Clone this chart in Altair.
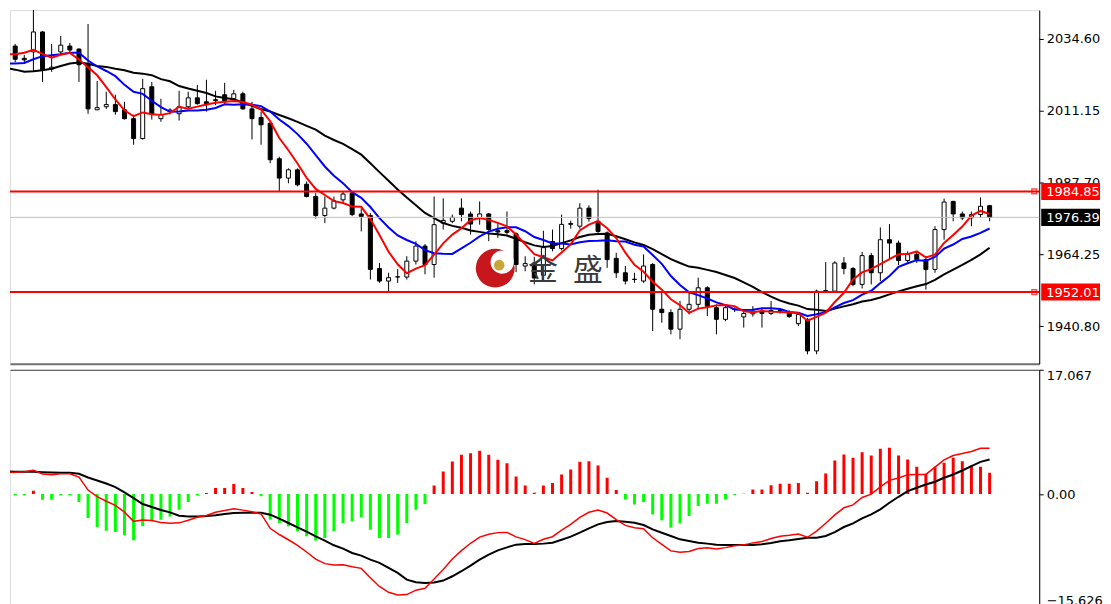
import altair as alt
import pandas as pd

# ---------------- data ----------------
opens = [2032.5, 2032.3, 2028.3, 2030.4, 2036.9, 2024.8, 2030.4, 2032.3, 2031.3, 2026.2,
         2011.5, 2012.5, 2013.2, 2011.5, 2008.6, 2002.1, 2019.0, 2008.6, 2011.0, 2010.2,
         2012.5, 2015.4, 2014.1, 2014.8, 2016.4, 2015.1, 2016.7, 2011.8, 2009.0, 2007.1,
         1995.5, 1989.2, 1991.9, 1987.2, 1983.2, 1977.0, 1979.4, 1982.1, 1984.3, 1977.5,
         1977.0, 1959.7, 1955.6, 1956.9, 1956.9, 1962.1, 1967.0, 1961.0, 1974.5, 1975.1,
         1979.4, 1977.5, 1976.2, 1977.5, 1972.0, 1972.1, 1971.0, 1960.5, 1961.5, 1957.5,
         1968.5, 1966.2, 1974.1, 1973.5, 1979.4, 1975.1, 1971.3, 1963.0, 1958.3, 1956.2,
         1955.6, 1961.0, 1946.4, 1945.3, 1939.9, 1946.4, 1948.0, 1953.4, 1946.9, 1943.1,
         1946.5, 1943.9, 1944.9, 1945.8, 1945.0, 1946.0, 1945.3, 1941.7, 1943.1, 1932.8,
         1952.3, 1952.3, 1961.5, 1959.7, 1954.5, 1963.9, 1958.3, 1969.1, 1968.0, 1962.3,
         1964.3, 1962.6, 1959.4, 1972.4, 1981.6, 1977.5, 1976.2, 1977.3, 1980.2]
highs = [2033.0, 2033.0, 2029.4, 2046.6, 2037.2, 2033.0, 2035.6, 2033.3, 2031.6, 2039.5,
         2020.9, 2017.4, 2016.4, 2014.1, 2009.9, 2021.6, 2020.6, 2015.1, 2012.0, 2017.7,
         2017.4, 2019.6, 2021.3, 2017.7, 2020.3, 2018.0, 2017.4, 2014.1, 2010.9, 2007.6,
         1996.2, 1992.4, 1992.4, 1988.1, 1984.3, 1983.2, 1983.2, 1985.0, 1984.85, 1979.4,
         1977.8, 1961.5, 1958.3, 1959.5, 1963.7, 1968.6, 1967.7, 1983.2, 1982.6, 1977.3,
         1982.6, 1978.3, 1981.6, 1977.8, 1974.5, 1978.3, 1971.5, 1963.7, 1963.5, 1972.0,
         1972.4, 1977.3, 1975.3, 1981.0, 1980.3, 1985.4, 1971.8, 1964.8, 1960.5, 1958.3,
         1964.3, 1961.5, 1952.3, 1946.4, 1949.1, 1951.8, 1956.7, 1953.9, 1948.0, 1947.6,
         1947.0, 1946.4, 1947.4, 1946.5, 1949.1, 1946.8, 1946.0, 1945.3, 1943.6, 1952.8,
         1961.8, 1962.1, 1963.4, 1960.2, 1965.1, 1964.8, 1973.1, 1974.2, 1968.8, 1965.3,
         1965.0, 1963.7, 1973.5, 1982.5, 1981.8, 1978.3, 1978.3, 1982.9, 1980.5]
lows = [2031.0, 2027.0, 2026.5, 2023.9, 2020.6, 2023.9, 2029.4, 2030.0, 2020.6, 2010.2,
        2011.5, 2011.8, 2009.9, 2008.3, 2000.1, 2001.8, 2008.3, 2007.6, 2010.0, 2008.0,
        2011.8, 2013.2, 2010.9, 2013.0, 2013.2, 2014.5, 2011.5, 2001.8, 2000.1, 1994.1,
        1984.85, 1987.5, 1986.5, 1982.9, 1976.0, 1974.5, 1979.0, 1981.0, 1976.8, 1971.8,
        1956.1, 1955.0, 1952.3, 1955.0, 1956.1, 1961.0, 1957.8, 1956.7, 1972.4, 1974.5,
        1975.1, 1970.8, 1974.0, 1968.6, 1969.7, 1970.8, 1958.5, 1958.8, 1954.5, 1956.0,
        1965.3, 1965.6, 1972.7, 1972.7, 1975.0, 1971.3, 1959.9, 1956.6, 1954.5, 1955.0,
        1955.0, 1939.3, 1942.0, 1938.2, 1936.6, 1944.7, 1946.4, 1944.2, 1938.2, 1942.5,
        1945.5, 1940.4, 1944.0, 1940.4, 1944.5, 1945.0, 1943.6, 1940.9, 1931.7, 1931.7,
        1951.8, 1951.8, 1957.8, 1953.9, 1953.2, 1954.5, 1955.6, 1962.6, 1960.8, 1961.5,
        1961.5, 1952.8, 1958.3, 1969.1, 1975.1, 1975.5, 1973.5, 1976.2, 1975.1]
closes = [2031.5, 2028.0, 2027.8, 2036.9, 2024.5, 2025.4, 2032.6, 2031.0, 2026.2, 2011.8,
          2012.2, 2013.2, 2010.9, 2008.6, 2002.1, 2018.4, 2010.2, 2009.9, 2011.4, 2012.5,
          2015.4, 2013.5, 2013.2, 2014.5, 2014.1, 2016.7, 2011.8, 2008.6, 2006.6, 1995.2,
          1989.2, 1991.9, 1987.0, 1983.2, 1977.0, 1979.4, 1981.8, 1984.0, 1977.3, 1976.7,
          1959.4, 1955.6, 1956.7, 1957.0, 1962.1, 1967.0, 1961.0, 1974.0, 1975.4, 1976.4,
          1977.3, 1974.2, 1977.5, 1972.4, 1971.6, 1971.5, 1961.0, 1961.3, 1956.6, 1966.5,
          1966.2, 1974.1, 1974.4, 1979.4, 1976.0, 1971.8, 1962.6, 1958.3, 1955.6, 1956.1,
          1960.5, 1946.4, 1945.3, 1939.9, 1946.4, 1948.0, 1953.4, 1947.4, 1943.1, 1946.9,
          1946.3, 1945.0, 1945.8, 1945.0, 1946.0, 1945.8, 1944.0, 1944.7, 1932.8, 1952.3,
          1952.5, 1961.5, 1959.7, 1954.5, 1963.9, 1958.3, 1969.1, 1968.0, 1962.3, 1964.3,
          1962.6, 1959.4, 1972.4, 1981.4, 1977.5, 1976.2, 1977.3, 1980.0, 1976.39]

# moving-average values at the left edge (their history is off the picture)
ma5_head = [2029.6, 2029.6, 2030.1, 2031.1]
ma10_head = [2026.6, 2026.6, 2026.8, 2028.0, 2029.0, 2029.3, 2029.6, 2030.1, 2030.1]
ma20_head = [2025.2, 2024.6, 2023.9, 2024.1, 2024.4, 2024.9, 2025.8, 2026.6, 2026.9, 2026.5,
             2025.8, 2025.5, 2024.9, 2024.4, 2023.6, 2023.3, 2022.8, 2021.5, 2020.8]

# MACD panel
hist = [-0.2, -0.2, -0.2, 0.46, -0.78, -0.78, -0.2, -0.2, -1.1, -3.29,
        -4.52, -5.02, -5.2, -5.66, -6.35, -4.43, -3.74, -3.52, -3.06, -2.15,
        -1.1, -0.2, 0.14, 0.82, 0.82, 1.37, 0.82, 0.27, -0.3, -3.5,
        -3.97, -4.43, -5.11, -5.8, -6.39, -6.03, -5.11, -3.97, -3.74, -3.2,
        -4.89, -6.03, -6.03, -5.57, -3.97, -2.15, -1.37, 1.19, 3.1, 4.47,
        5.39, 5.62, 5.94, 5.39, 4.7, 4.25, 2.42, 1.19, 0.18, 1.19,
        1.51, 2.69, 3.38, 4.43, 4.52, 3.93, 2.24, 0.55, -0.73, -1.42,
        -1.10, -2.79, -3.61, -4.61, -4.02, -3.01, -1.64, -1.32, -1.32, -0.73,
        -0.14, 0.05, 0.64, 0.64, 1.23, 1.42, 1.42, 1.51, 0.18, 1.78,
        2.83, 4.61, 5.43, 4.98, 5.75, 5.30, 6.21, 6.35, 5.30, 4.75,
        3.74, 2.79, 3.70, 4.29, 4.98, 4.52, 3.93, 3.74, 2.92]
dea = [3.1, 3.08, 3.06, 3.06, 3.01, 2.97, 2.92, 2.92, 2.79, 2.28,
       1.87, 1.46, 0.96, 0.23, -0.55, -1.37, -1.78, -2.19, -2.51, -2.97,
       -3.06, -3.06, -3.01, -2.92, -2.74, -2.60, -2.56, -2.56, -2.56, -2.83,
       -3.38, -3.97, -4.57, -5.16, -5.80, -6.39, -7.03, -7.49, -8.08, -8.45,
       -9.0, -9.45, -10.14, -10.82, -11.74, -12.1, -12.19, -12.15, -11.87, -11.28,
       -10.59, -9.82, -9.0, -8.31, -7.72, -7.31, -6.94, -6.85, -6.85, -6.8,
       -6.67, -6.26, -5.84, -5.3, -4.7, -4.16, -3.84, -3.7, -3.79, -3.93,
       -4.25, -4.84, -5.3, -5.75, -6.21, -6.44, -6.67, -6.8, -6.94, -6.99,
       -6.99, -6.99, -6.99, -6.89, -6.71, -6.48, -6.35, -6.16, -5.98, -5.98,
       -5.75, -5.21, -4.52, -4.02, -3.33, -2.79, -2.1, -1.19, -0.37, 0.41,
       0.87, 1.32, 1.69, 2.24, 2.69, 3.24, 3.84, 4.43, 4.75]
dif = [2.97, 3.01, 3.08, 3.26, 2.75, 2.65, 2.8, 2.8, 2.33, 0.55,
       -0.35, -0.98, -1.55, -2.48, -3.74, -3.55, -3.62, -3.9, -4.0, -3.95,
       -3.6, -3.18, -2.93, -2.49, -2.26, -2.03, -2.2, -2.42, -2.72, -4.7,
       -5.55, -6.27, -7.04, -7.95, -8.93, -9.55, -9.75, -9.7, -9.98, -10.2,
       -11.48, -12.68, -13.48, -13.85, -13.8, -13.19, -12.92, -11.65, -10.35, -8.9,
       -7.76, -6.75, -5.9, -5.52, -5.29, -5.26, -5.88, -6.25, -6.76, -6.2,
       -5.85, -4.95, -4.15, -3.2, -2.5, -2.2, -2.6, -3.5, -4.3, -4.62,
       -4.75, -6.0, -6.9, -7.8, -8.0, -7.87, -7.46, -7.36, -7.55, -7.35,
       -7.08, -6.97, -6.7, -6.5, -6.1, -5.78, -5.65, -5.47, -5.93, -5.08,
       -4.0, -2.85, -1.88, -1.48, -0.47, 0.0, 0.98, 1.88, 2.2, 2.67,
       2.7, 2.7, 3.7, 4.7, 5.3, 5.56, 5.85, 6.28, 6.28]

price_ticks = [2034.60, 2011.15, 1987.70, 1964.25, 1940.80]
macd_ticks = [17.067, 0.0, -15.626]
level_lines = [1984.85, 1952.01]
current_price = 1976.39
tag_prices = [1984.85, 1976.39, 1952.01]
tag_labels = ["1984.85", "1976.39", "1952.01"]
tag_colors = ["#ff0000", "#000000", "#ff0000"]
watermark_chars = ["金", "盛"]

# ---------------- table ----------------
n = len(closes)
cs = pd.Series(closes, dtype=float)
ma5 = cs.rolling(5).mean()
ma10 = cs.rolling(10).mean()
ma20 = cs.rolling(20).mean()
ma5.iloc[:len(ma5_head)] = ma5_head
ma10.iloc[:len(ma10_head)] = ma10_head
ma20.iloc[:len(ma20_head)] = ma20_head

df = pd.DataFrame({
    "k": list(range(n)), "o": opens, "h": highs, "l": lows, "c": closes,
    "ma5": ma5, "ma10": ma10, "ma20": ma20,
    "hist": hist, "dif": dif, "dea": dea,
})

W = 1033
H_TOP = 355
H_BOT = 239
FONT = "DejaVu Sans"
FS = 13

xs = alt.Scale(domain=[0.975, 112.9], nice=False, zero=False)
ys = alt.Scale(domain=[1928.59, 2044.04], nice=False, zero=False)
ys2 = alt.Scale(domain=[-15.626, 17.067], nice=False, zero=False)

x_top = alt.X("k:Q", scale=xs, title=None,
              axis=alt.Axis(orient="bottom", labels=False, ticks=False, grid=False,
                            domainColor="#707070", domainWidth=2))
price_axis = alt.Axis(orient="right", values=price_ticks, format=".2f", grid=False,
                      domainColor="black", tickColor="black", tickSize=4, labelPadding=3,
                      labelFont=FONT, labelFontSize=FS, labelColor="black", labelFlush=False)

base = alt.Chart(df)

wicks = base.mark_rule(color="black", strokeWidth=1, clip=True).encode(
    x=x_top, y=alt.Y("l:Q", scale=ys, axis=price_axis, title=None), y2="h:Q")
bodies = base.mark_bar(width=4, stroke="black", strokeWidth=1, clip=True).encode(
    x=alt.X("k:Q", title=None), y=alt.Y("o:Q", title=None), y2="c:Q",
    fill=alt.condition("datum.c >= datum.o", alt.value("white"), alt.value("black")))
l20 = base.mark_line(color="black", strokeWidth=2, clip=True).encode(
    x=alt.X("k:Q", title=None), y=alt.Y("ma20:Q", title=None))
l10 = base.mark_line(color="#0000ff", strokeWidth=2, clip=True).encode(
    x=alt.X("k:Q", title=None), y=alt.Y("ma10:Q", title=None))
l5 = base.mark_line(color="#ff0000", strokeWidth=2, clip=True).encode(
    x=alt.X("k:Q", title=None), y=alt.Y("ma5:Q", title=None))

lv = pd.DataFrame({"p": level_lines})
cur = pd.DataFrame({"p": [current_price]})
cur_rule = alt.Chart(cur).mark_rule(color="#c0c0c0", strokeWidth=1).encode(
    y=alt.Y("p:Q", title=None))
lv_rules = alt.Chart(lv).mark_rule(color="#ff0000", strokeWidth=2).encode(
    y=alt.Y("p:Q", title=None))
lv_marks = alt.Chart(lv).mark_square(filled=False, color="#ff0000", size=22,
                                     strokeWidth=1.5).encode(
    x=alt.value(W - 5), y=alt.Y("p:Q", title=None))

tags = pd.DataFrame({"p": tag_prices, "lab": tag_labels, "bg": tag_colors})
tag_box = alt.Chart(tags).mark_point(
    shape="M-1,-0.29L1,-0.29L1,0.29L-1,0.29Z", filled=True, size=3481,
    opacity=1, strokeWidth=0).encode(
    x=alt.value(W + 31.5), y=alt.Y("p:Q", title=None),
    color=alt.Color("bg:N", scale=None))
tag_txt = alt.Chart(tags).mark_text(align="left", baseline="middle", color="white",
                                    font=FONT, fontSize=FS, dy=1).encode(
    x=alt.value(W + 7), y=alt.Y("p:Q", title=None), text="lab:N")

one = pd.DataFrame({"a": [0]})
logo_red = alt.Chart(one).mark_circle(color="#c8161d", opacity=1, size=1520).encode(
    x=alt.value(487), y=alt.value(259))
logo_white = alt.Chart(one).mark_circle(color="white", opacity=1, size=540).encode(
    x=alt.value(494), y=alt.value(253))
logo_gold = alt.Chart(one).mark_circle(color="#c9a63a", opacity=1, size=115).encode(
    x=alt.value(491), y=alt.value(256))
wm = pd.DataFrame({"t": watermark_chars})
wm1 = alt.Chart(wm[wm.t == "金"]).mark_text(font="Noto Sans CJK SC", fontSize=30,
                                           color="#3a3a3a", baseline="middle").encode(
    x=alt.value(535), y=alt.value(262), text="t:N")
wm2 = alt.Chart(wm[wm.t == "盛"]).mark_text(font="Noto Sans CJK SC", fontSize=30,
                                           color="#3a3a3a", baseline="middle").encode(
    x=alt.value(580), y=alt.value(262), text="t:N")

top = alt.layer(wicks, bodies, l20, l10, l5, cur_rule, lv_rules, lv_marks,
                logo_red, logo_white, logo_gold, wm1, wm2, tag_box, tag_txt
                ).properties(width=W, height=H_TOP)

# ---------------- MACD ----------------
x_bot = alt.X("k:Q", scale=xs, title=None,
              axis=alt.Axis(orient="top", labels=False, ticks=False, grid=False,
                            domainColor="#404040", domainWidth=1))
macd_axis = alt.Axis(orient="right", values=macd_ticks, grid=False,
                     labelExpr="datum.value == 0 ? '0.00' : format(datum.value, '.3f')",
                     labelFlush=True, domainColor="black", tickColor="black", tickSize=4,
                     labelPadding=3, labelFont=FONT, labelFontSize=FS, labelColor="black")
bars = base.mark_bar(width=3, clip=True).encode(
    x=x_bot, y=alt.Y("hist:Q", scale=ys2, axis=macd_axis, title=None), y2=alt.Y2(datum=0),
    color=alt.condition("datum.hist >= 0", alt.value("#ff0000"), alt.value("#00ff00")))
dea_line = base.mark_line(color="black", strokeWidth=2, clip=True).encode(
    x=alt.X("k:Q", title=None), y=alt.Y("dea:Q", title=None))
dif_line = base.mark_line(color="#ff0000", strokeWidth=1.5, clip=True).encode(
    x=alt.X("k:Q", title=None), y=alt.Y("dif:Q", title=None))

bottom = alt.layer(bars, dea_line, dif_line).properties(width=W, height=H_BOT)

chart = alt.vconcat(top, bottom, spacing=4).properties(
    padding={"left": 0, "top": 0, "right": 0, "bottom": 0}
).configure_view(stroke=None).configure(background="white")

chart.save("out.html", embed_options={"renderer": "svg", "actions": False})
